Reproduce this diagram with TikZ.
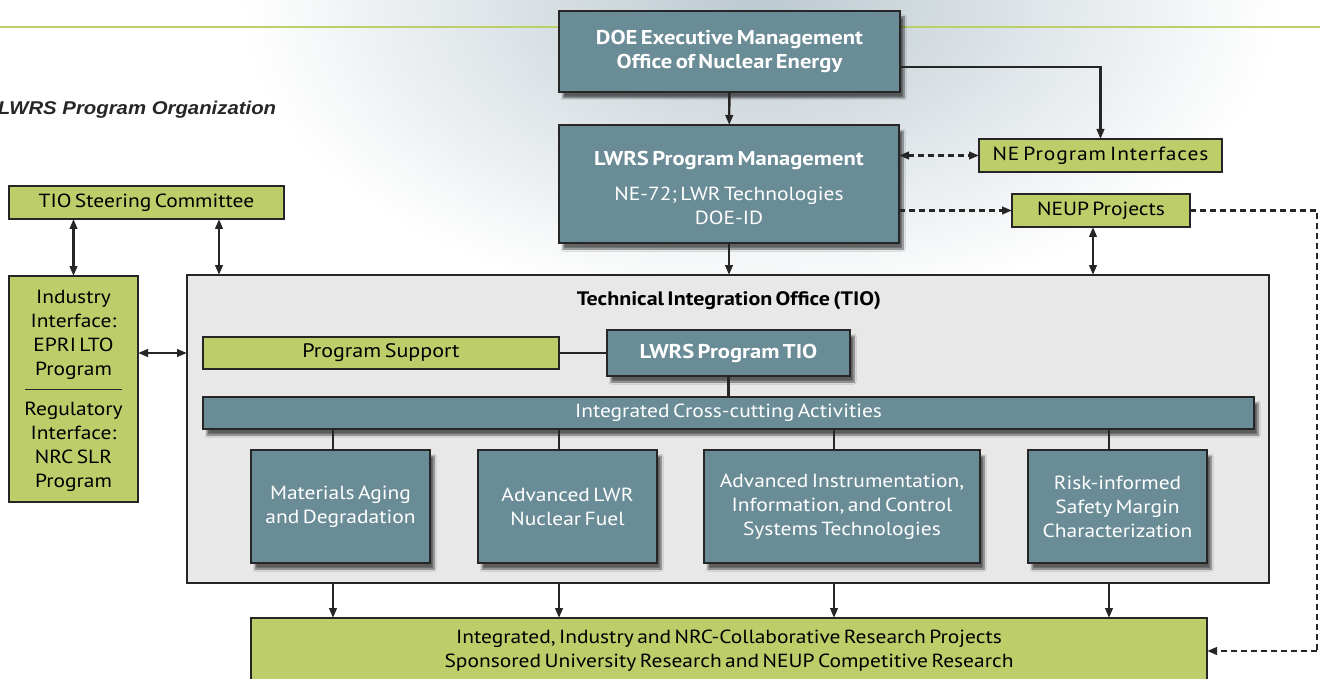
\documentclass[tikz,border=0pt]{standalone}
\usepackage{fontspec}
\setmainfont{PT Sans}[FakeStretch=1.13, WordSpace=0.6]
\newfontfamily\titlefont{Liberation Sans}[FakeStretch=1.1]
\usetikzlibrary{arrows.meta,shadows.blur,calc}
\definecolor{tealbox}{HTML}{6A8C96}
\definecolor{greenbox}{HTML}{BDCD69}
\definecolor{tiogray}{HTML}{E8E8E8}
\definecolor{bgblue}{HTML}{BCC9D0}
\definecolor{edgec}{HTML}{262626}
\definecolor{linegreen}{HTML}{BCCF6A}
\begin{document}
\begin{tikzpicture}[x=1pt,y=-1pt,
  every node/.style={inner sep=0pt, outer sep=0pt, align=center},
  tbox/.style={draw=edgec, line width=1.5pt, fill=tealbox, text=white,
    font=\fontsize{19}{24}\selectfont,
    blur shadow={shadow xshift=4pt, shadow yshift=-6pt, shadow blur steps=8, shadow opacity=60}},
  gbox/.style={draw=edgec, line width=1.5pt, fill=greenbox, text=black,
    font=\fontsize{19}{24}\selectfont},
  rtext/.style={font=\fontsize{19}{24}\selectfont},
  tip/.tip={Triangle[length=10pt,width=7.5pt]},
  arr/.style={line width=2.4pt, draw=edgec, -tip},
  darr/.style={line width=2.4pt, draw=edgec, tip-tip},
  dline/.style={line width=2.4pt, draw=edgec, dash pattern=on 6pt off 4pt},
  ln/.style={line width=2.4pt, draw=edgec}
]
\useasboundingbox (0,0) rectangle (1320,679);
\clip (0,0) rectangle (1320,679);
% background
\fill[white] (0,0) rectangle (1320,679);
\shade[inner color=bgblue, outer color=white] (760,0) ellipse [x radius=520, y radius=310];
\draw[linegreen, line width=2.4pt] (0,27) -- (1320,27);

% title
\node[anchor=west, font=\titlefont\bfseries\itshape\fontsize{18.5}{22}\selectfont, text=black!85] (title) at (-2,110) {LWRS Program Organization};

% TIO container
\node[draw=edgec, line width=1.5pt, fill=tiogray, minimum width=1082, minimum height=308] (tio) at (728,429) {};
\node[font=\bfseries\fontsize{19.5}{22}\selectfont] (tiotitle) at (729,301) {Technical Integration Office (TIO)};

% top teal boxes
\node[tbox, minimum width=341, minimum height=81] (doe) at (729.5,51.5)
  {\bfseries\fontsize{20}{24}\selectfont DOE Executive Management\\\bfseries\fontsize{20}{24}\selectfont Office of Nuclear Energy};
\node[tbox, minimum width=340, minimum height=118] (lpm) at (729,184) {};
\node[font=\bfseries\fontsize{20}{24}\selectfont, text=white] (lpmtitle) at (729,160) {LWRS Program Management};
\node[rtext, text=white] (lpmsub) at (729,206) {NE-72; LWR Technologies\\DOE-ID};

% right green boxes
\node[gbox, minimum width=243, minimum height=33] (nepi) at (1100.5,155.5) {\addfontfeature{LetterSpace=5}NE Program Interfaces};
\node[gbox, minimum width=178, minimum height=33] (neup) at (1101,210.5) {NEUP Projects};

% left green boxes
\node[gbox, minimum width=275, minimum height=33] (tsc) at (146.5,202.5) {TIO Steering Committee};
\node[gbox, minimum width=129, minimum height=226] (ind) at (73.5,389) {};
\node[rtext] (indtop) at (73.5,335) {Industry\\Interface:\\EPRI LTO\\Program};
\node[rtext] (indbot) at (73.5,447) {Regulatory\\Interface:\\NRC SLR\\Program};
\draw[edgec, line width=0.9pt] (25,389) -- (122,389);

% inside TIO
\node[gbox, minimum width=356, minimum height=32, font=\fontsize{19.5}{24}\selectfont] (ps) at (381,353) {Program Support};
\node[tbox, minimum width=243, minimum height=46, font=\bfseries\fontsize{20}{24}\selectfont] (ltio) at (728.5,353) {LWRS Program TIO};
\node[tbox, minimum width=1051, minimum height=32] (ica) at (728.5,413) {Integrated Cross-cutting Activities};

\node[tbox, minimum width=179, minimum height=113] (mat) at (340.5,506.5) {Materials Aging\\and Degradation};
\node[tbox, minimum width=179, minimum height=113] (fuel) at (567.5,506.5) {Advanced LWR\\Nuclear Fuel};
\node[tbox, minimum width=276, minimum height=113] (inst) at (842,506.5) {Advanced Instrumentation,\\Information, and Control\\Systems Technologies};
\node[tbox, minimum width=179, minimum height=113] (risk) at (1117.5,506.5) {Risk-informed\\Safety Margin\\Characterization};

% bottom box
\node[gbox, minimum width=956, minimum height=90, anchor=north] (bot) at (729,618) {};
\node[rtext] (bottxt) at (729,651) {Integrated, Industry and NRC-Collaborative Research Projects\\Sponsored University Research and NEUP Competitive Research};

% connector helper coordinates
\coordinate (xa) at (333,0);
\coordinate (xb) at (559,0);
\coordinate (xc) at (834,0);
\coordinate (xd) at (1109,0);
\coordinate (xs) at (219,0);
\coordinate (xn) at (1093,0);
\coordinate (ydoe) at (0,67);
\coordinate (rt) at (1317,651);

% connectors
\draw[arr] (doe) -- (lpm);
\draw[arr] (lpm.south) -- (lpm.south |- tio.north);
\draw[arr] (doe.east |- ydoe) -| (nepi.north);
\draw[darr, dash pattern=on 6pt off 4pt] (lpm.east |- nepi.west) -- (nepi.west);
\draw[arr, dash pattern=on 6pt off 4pt] (lpm.east |- neup.west) -- (neup.west);
\draw[darr] (xn |- neup.south) -- (xn |- tio.north);
\draw[dline] (neup.east) -| (rt);
\draw[arr, dash pattern=on 6pt off 4pt] (rt) -- (bot.east |- rt);

\draw[darr] (tsc.south -| ind.north) -- (ind.north);
\draw[darr] (xs |- tsc.south) -- (xs |- tio.north);
\draw[darr] (ind.east |- ps) -- (tio.west |- ps);

\draw[ln] (ps.east) -- (ltio.west);
\draw[ln] (ltio.south) -- (ltio.south |- ica.north);

\foreach \c/\b in {xa/mat, xb/fuel, xc/inst, xd/risk}{
  \draw[ln] (\c |- ica.south) -- (\c |- \b.north);
  \draw[arr] (\c |- tio.south) -- (\c |- bot.north);
}
\end{tikzpicture}
\end{document}
